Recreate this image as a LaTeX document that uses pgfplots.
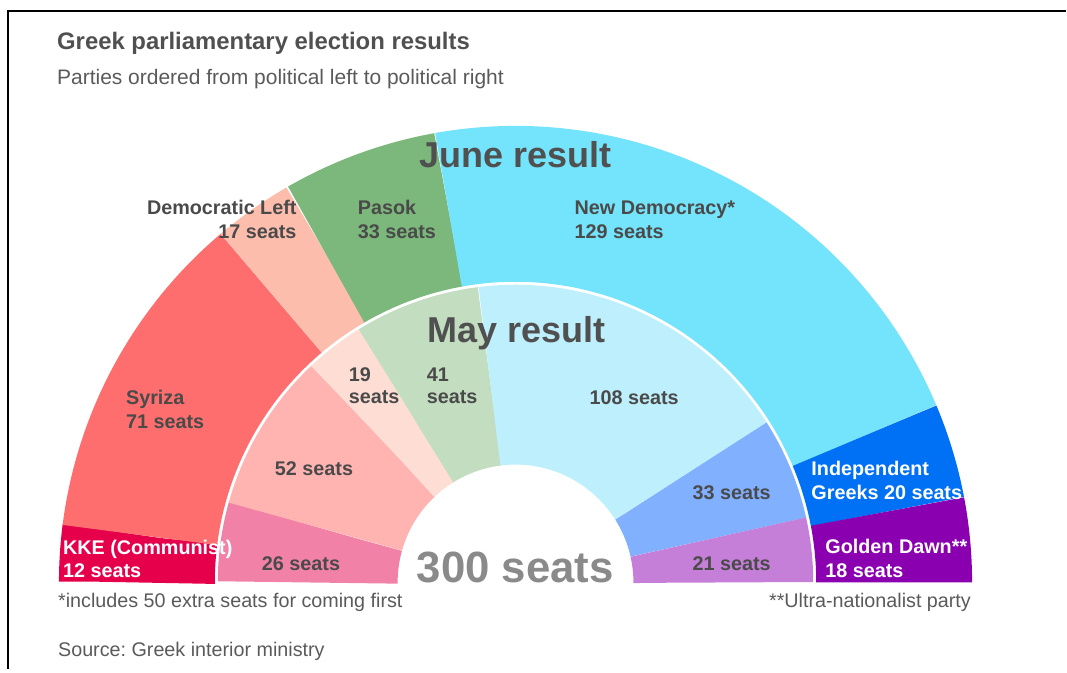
\documentclass[border=0pt]{standalone}
\usepackage{fontspec}
\setmainfont{Liberation Sans}
\usepackage{pgfplots}
\pgfplotsset{compat=1.18}
\frenchspacing

\definecolor{kkeJ}{HTML}{E6004C}
\definecolor{kkeM}{HTML}{F181A6}
\definecolor{syrJ}{HTML}{FF6E6E}
\definecolor{syrM}{HTML}{FFB4B2}
\definecolor{dlJ}{HTML}{FDBDAC}
\definecolor{dlM}{HTML}{FEDDD5}
\definecolor{pasJ}{HTML}{7CB77C}
\definecolor{pasM}{HTML}{C2DDC0}
\definecolor{ndJ}{HTML}{74E3FC}
\definecolor{ndM}{HTML}{BDEFFC}
\definecolor{igJ}{HTML}{0070F5}
\definecolor{igM}{HTML}{80B0FF}
\definecolor{gdJ}{HTML}{8A00B0}
\definecolor{gdM}{HTML}{C67FD8}
\definecolor{labc}{HTML}{4A4A4A}
\definecolor{titc}{HTML}{505050}
\definecolor{subc}{HTML}{5A5A5A}
\definecolor{bigc}{HTML}{8A8A8A}

% wedge: colour, first seat, last seat (cumulative), mid radius, ring width
\newcommand{\seatwedge}[5]{%
  \addplot[draw=#1, line width=#5pt, line cap=butt, line join=round,
    samples=120, domain=#2:#3, variable=\t]
    ({516+#4*cos(180-0.6*\t)}, {87+#4*sin(180-0.6*\t)});
}
\newcommand{\lab}[5]{% x, y, anchor, colour, text
  \node[anchor=#3, text=#4, inner sep=0pt, font=\fontsize{19.8}{23.5}\selectfont\bfseries] at (axis cs:#1,#2) {#5};
}
\newcommand{\note}[4]{% x, y, anchor, text
  \node[anchor=#3, text=subc, inner sep=0pt, font=\fontsize{19.75}{23.5}\selectfont] at (axis cs:#1,#2) {#4};
}

\begin{document}
\begin{tikzpicture}
\begin{axis}[
  hide axis, x=1pt, y=1pt,
  xmin=0, xmax=1067, ymin=0, ymax=670,
  clip=false, anchor=origin, at={(0,0)},
]
\path (axis cs:0,0) rectangle (axis cs:1067,670);

% June result (outer ring), seats: 12, 71, 17, 33, 129, 20, 18 (cumulative bounds)
\seatwedge{kkeJ}{0}{12}{379}{156}
\seatwedge{syrJ}{12}{83}{379}{156}
\seatwedge{dlJ}{83}{100}{379}{156}
\seatwedge{pasJ}{100}{133}{379}{156}
\seatwedge{ndJ}{133}{262}{379}{156}
\seatwedge{igJ}{262}{282}{379}{156}
\seatwedge{gdJ}{282}{300}{379}{156}

% May result (inner ring), seats: 26, 52, 19, 41, 108, 33, 21 (cumulative bounds)
\seatwedge{kkeM}{0}{26}{208}{180}
\seatwedge{syrM}{26}{78}{208}{180}
\seatwedge{dlM}{78}{97}{208}{180}
\seatwedge{pasM}{97}{138}{208}{180}
\seatwedge{ndM}{138}{246}{208}{180}
\seatwedge{igM}{246}{279}{208}{180}
\seatwedge{gdM}{279}{300}{208}{180}

% frame
\draw[line width=2pt, black] (axis cs:8,0) -- (axis cs:8,659) -- (axis cs:1067,659);

% titles
\node[anchor=base west, inner sep=0pt, text=titc, font=\fontsize{23.9}{28}\selectfont\bfseries] at (axis cs:57,620) {Greek parliamentary election results};
\node[anchor=base west, inner sep=0pt, text=subc, font=\fontsize{21}{25}\selectfont] at (axis cs:57,585) {Parties ordered from political left to political right};

\node[anchor=base west, inner sep=0pt, text=titc, font=\fontsize{36}{40}\selectfont\bfseries] at (axis cs:420,502) {June result};
\node[anchor=base west, inner sep=0pt, text=titc, font=\fontsize{36}{40}\selectfont\bfseries] at (axis cs:428,327) {May result};
\node[anchor=base west, inner sep=0pt, text=bigc, font=\fontsize{43.8}{48}\selectfont\bfseries] at (axis cs:417,87) {300 seats};

% June labels
\lab{297}{455}{base east}{labc}{Democratic Left}
\lab{297}{431.5}{base east}{labc}{17 seats}
\lab{358}{455}{base west}{labc}{Pasok}
\lab{358}{431.5}{base west}{labc}{33 seats}
\lab{575}{455}{base west}{labc}{New Democracy*}
\lab{575}{431.5}{base west}{labc}{129 seats}
\lab{126}{265}{base west}{labc}{Syriza}
\lab{126}{241}{base west}{labc}{71 seats}
\lab{63}{115}{base west}{white}{KKE (Communist)}
\lab{63}{92}{base west}{white}{12 seats}
\lab{812}{194}{base west}{white}{Independent}
\lab{812}{170}{base west}{white}{Greeks 20 seats}
\lab{826}{116}{base west}{white}{Golden Dawn**}
\lab{826}{92}{base west}{white}{18 seats}

% May labels
\lab{349}{288.3}{base west}{labc}{19}
\lab{349}{266}{base west}{labc}{seats}
\lab{427}{288.3}{base west}{labc}{41}
\lab{427}{266}{base west}{labc}{seats}
\lab{590}{265}{base west}{labc}{108 seats}
\lab{275}{194}{base west}{labc}{52 seats}
\lab{693}{170}{base west}{labc}{33 seats}
\lab{262}{99.3}{base west}{labc}{26 seats}
\lab{693}{99.3}{base west}{labc}{21 seats}

% notes
\note{58}{62}{base west}{*includes 50 extra seats for coming first}
\note{972}{62}{base east}{**Ultra-nationalist party}
\note{58}{13.3}{base west}{Source: Greek interior ministry}
\end{axis}
\end{tikzpicture}
\end{document}
